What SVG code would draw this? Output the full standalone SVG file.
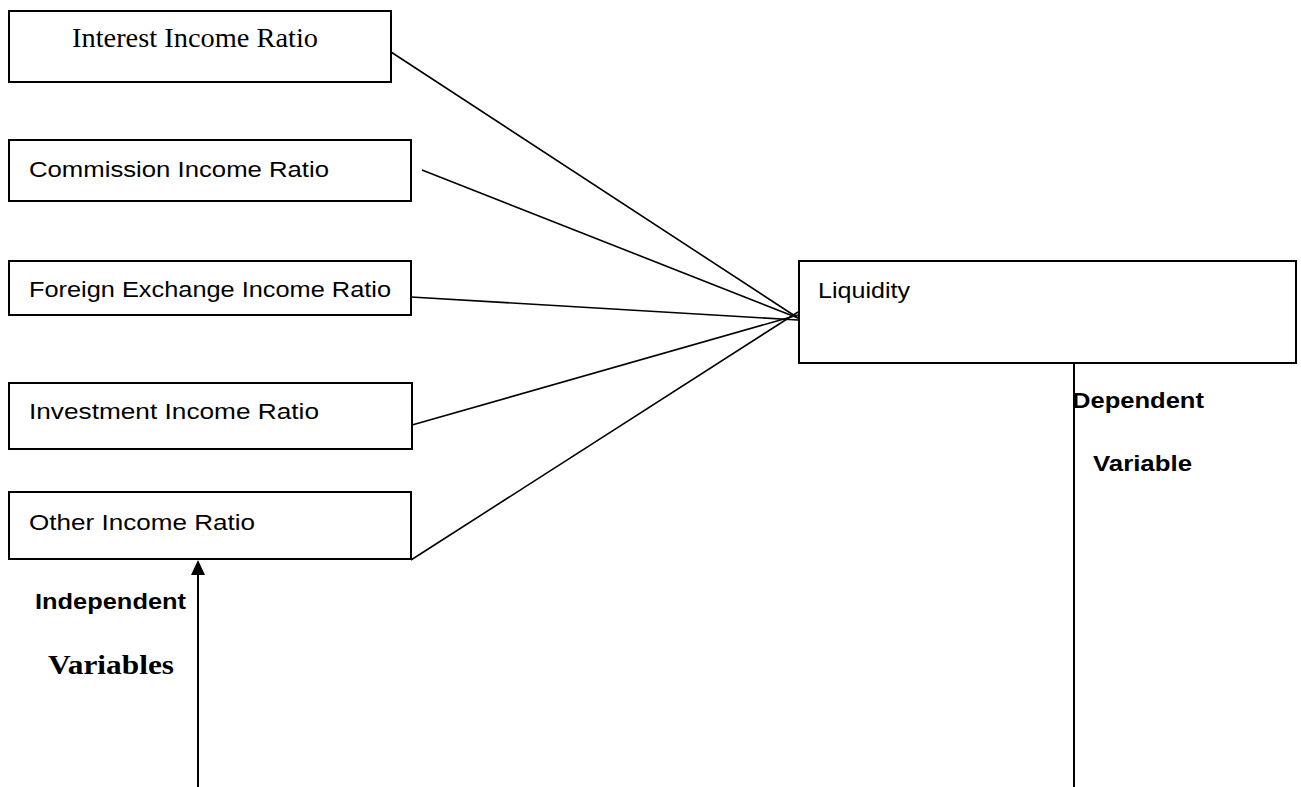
<svg xmlns="http://www.w3.org/2000/svg" width="1301" height="787" viewBox="0 0 1301 787">
<defs>
<style>
.box{fill:#fff;stroke:#000;stroke-width:2}
.lbl{font-family:"Liberation Sans",Arial,sans-serif;font-size:22.5px;fill:#000}
.ser{font-family:"Liberation Serif","Times New Roman",serif;font-size:27px;fill:#000}
.bs{font-family:"Liberation Sans",Arial,sans-serif;font-size:22px;font-weight:bold;fill:#000}
.bser{font-family:"Liberation Serif","Times New Roman",serif;font-size:27px;font-weight:bold;fill:#000}
.ln{stroke:#000;stroke-width:1.6;fill:none}
.ax{stroke:#000;stroke-width:2;fill:none}
</style>
</defs>
<rect width="1301" height="787" fill="#fff"/>
<g id="connectors">
<line class="ln" x1="391" y1="52" x2="798" y2="318"/>
<line class="ln" x1="422" y1="170" x2="798" y2="318"/>
<line class="ln" x1="411" y1="297" x2="798" y2="320"/>
<line class="ln" x1="412" y1="425" x2="798" y2="315"/>
<line class="ln" x1="411" y1="560" x2="798" y2="312"/>
<line class="ax" x1="198" y1="787" x2="198" y2="574"/>
<polygon points="198,560 191,575 205,575" fill="#000"/>
<line class="ax" x1="1074" y1="363" x2="1074" y2="787"/>
</g>
<g id="n1">
<rect class="box" x="9" y="11" width="382" height="71"/>
<text class="ser" x="72" y="47" textLength="246" lengthAdjust="spacingAndGlyphs">Interest Income Ratio</text>
</g>
<g id="n2">
<rect class="box" x="9" y="140" width="402" height="61"/>
<text class="lbl" x="29" y="177" textLength="300" lengthAdjust="spacingAndGlyphs">Commission Income Ratio</text>
</g>
<g id="n3">
<rect class="box" x="9" y="261" width="402" height="54"/>
<text class="lbl" x="29" y="297" textLength="362" lengthAdjust="spacingAndGlyphs">Foreign Exchange Income Ratio</text>
</g>
<g id="n4">
<rect class="box" x="9" y="383" width="403" height="66"/>
<text class="lbl" x="29" y="419" textLength="290" lengthAdjust="spacingAndGlyphs">Investment Income Ratio</text>
</g>
<g id="n5">
<rect class="box" x="9" y="492" width="402" height="67"/>
<text class="lbl" x="29" y="530" textLength="226" lengthAdjust="spacingAndGlyphs">Other Income Ratio</text>
</g>
<g id="liquidity">
<rect class="box" x="799" y="261" width="497" height="102"/>
<text class="lbl" x="818" y="298" textLength="92" lengthAdjust="spacingAndGlyphs">Liquidity</text>
</g>
<g id="labels">
<text class="bs" x="35" y="609" textLength="151" lengthAdjust="spacingAndGlyphs">Independent</text>
<text class="bser" x="48" y="674" textLength="126" lengthAdjust="spacingAndGlyphs">Variables</text>
<text class="bs" x="1072" y="408" textLength="132" lengthAdjust="spacingAndGlyphs">Dependent</text>
<text class="bs" x="1093" y="471" textLength="99" lengthAdjust="spacingAndGlyphs">Variable</text>
</g>
</svg>
